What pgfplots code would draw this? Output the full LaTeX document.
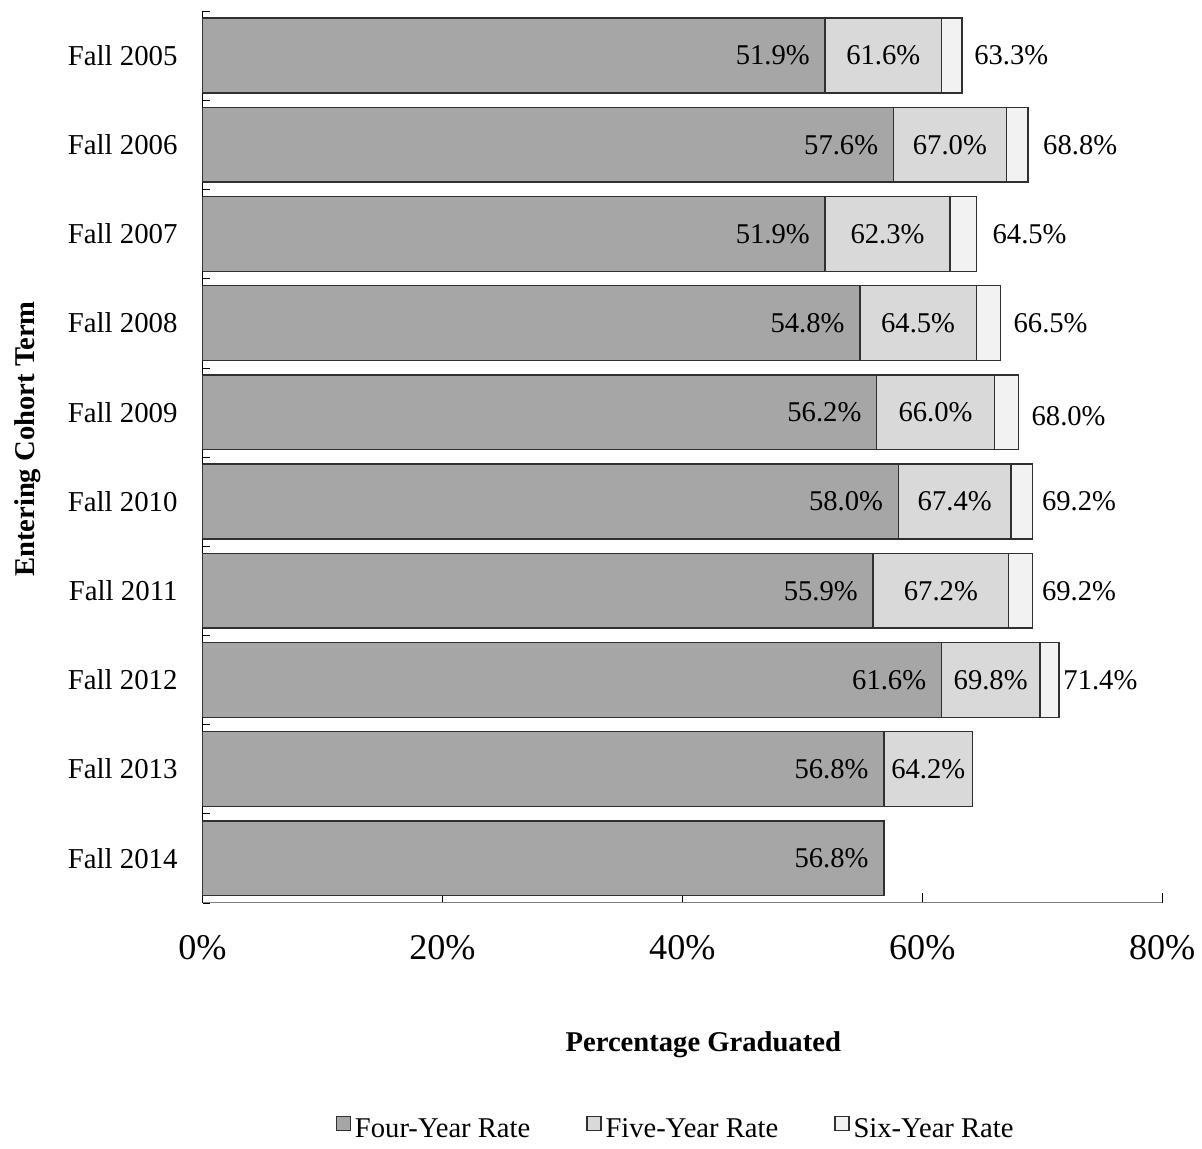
\documentclass[border=0pt]{standalone}
\usepackage{pgfplots}
\pgfplotsset{compat=1.18}
\usepackage{fontspec}
\setmainfont{Liberation Serif}
\definecolor{c4}{HTML}{A6A6A6}
\definecolor{c5}{HTML}{D9D9D9}
\definecolor{c6}{HTML}{F2F2F2}
\definecolor{edge}{HTML}{303030}
\definecolor{axgray}{HTML}{808080}
\tikzset{lbl/.style={font=\fontsize{14.4}{16}\selectfont, inner sep=0pt}}
\pgfplotsset{geom/.style={scale only axis, width=481bp, height=447bp,
  xmin=0, xmax=80, ymin=-0.5, ymax=9.5, y dir=reverse}}
\begin{document}
\begin{tikzpicture}
\begin{axis}[
  geom,
  xbar stacked,
  bar width=37.5bp,
  axis lines=left, axis line style={-},
  x axis line style={draw=axgray},
  y axis line style={draw=black},
  tick align=inside,
  xtick={0,20,40,60,80},
  xticklabel={\pgfmathprintnumber{\tick}\%},
  /pgf/number format/assume math mode=true,
  xticklabel style={font=\fontsize{18.2}{20}\selectfont, yshift=-13bp},
  ytick={0,...,9},
  yticklabels={Fall 2005,Fall 2006,Fall 2007,Fall 2008,Fall 2009,Fall 2010,Fall 2011,Fall 2012,Fall 2013,Fall 2014},
  yticklabel style={font=\fontsize{14.5}{16}\selectfont, xshift=-9bp},
  minor ytick={-0.5,0.5,...,9.5},
  major y tick style={draw=none},
  x tick style={draw=black},
  minor y tick style={draw=black},
  major tick length=5bp, minor tick length=4bp,
  every axis x label/.style={at={(axis description cs:0.5218,0)}, anchor=center, yshift=-71bp, font=\bfseries\fontsize{14.4}{16}\selectfont},
  every axis y label/.style={at={(axis description cs:-0.1819,0.52)}, rotate=90, anchor=center, font=\bfseries\fontsize{14.4}{16}\selectfont},
  xlabel={Percentage Graduated},
  ylabel={Entering Cohort Term},
  legend style={at={(axis description cs:0.494,0)}, anchor=center, yshift=-113.5bp, draw=none, fill=none,
    font=\fontsize{14.4}{16}\selectfont, legend columns=3,
    /tikz/every even column/.append style={column sep=26bp}},
  legend image code/.code={\draw[#1, draw=edge] (0bp,-0.5bp) rectangle (7bp,6.5bp);},
]
\addplot[fill=c4, draw=edge, line width=0.7bp] coordinates {
 (51.9,0) (57.6,1) (51.9,2) (54.8,3) (56.2,4) (58.0,5) (55.9,6) (61.6,7) (56.8,8) (56.8,9)};
\addlegendentry{Four-Year Rate}
\addplot[fill=c5, draw=edge, line width=0.7bp] coordinates {
 (9.7,0) (9.4,1) (10.4,2) (9.7,3) (9.8,4) (9.4,5) (11.3,6) (8.2,7) (7.4,8) (0,9)};
\addlegendentry{Five-Year Rate}
\addplot[fill=c6, draw=edge, line width=0.7bp] coordinates {
 (1.7,0) (1.8,1) (2.2,2) (2.0,3) (2.0,4) (1.8,5) (2.0,6) (1.6,7) (0,8) (0,9)};
\addlegendentry{Six-Year Rate}
\end{axis}
\begin{axis}[geom, hide axis]
% four-year labels
\node[lbl, anchor=east, xshift=-7.5bp] at (axis cs:51.9,0) {51.9\%};
\node[lbl, anchor=east, xshift=-7.5bp] at (axis cs:57.6,1) {57.6\%};
\node[lbl, anchor=east, xshift=-7.5bp] at (axis cs:51.9,2) {51.9\%};
\node[lbl, anchor=east, xshift=-7.5bp] at (axis cs:54.8,3) {54.8\%};
\node[lbl, anchor=east, xshift=-7.5bp] at (axis cs:56.2,4) {56.2\%};
\node[lbl, anchor=east, xshift=-7.5bp] at (axis cs:58.0,5) {58.0\%};
\node[lbl, anchor=east, xshift=-7.5bp] at (axis cs:55.9,6) {55.9\%};
\node[lbl, anchor=east, xshift=-7.5bp] at (axis cs:61.6,7) {61.6\%};
\node[lbl, anchor=east, xshift=-7.5bp] at (axis cs:56.8,8) {56.8\%};
\node[lbl, anchor=east, xshift=-7.5bp] at (axis cs:56.8,9) {56.8\%};
% five-year labels
\node[lbl] at (axis cs:56.75,0) {61.6\%};
\node[lbl] at (axis cs:62.3,1) {67.0\%};
\node[lbl] at (axis cs:57.1,2) {62.3\%};
\node[lbl] at (axis cs:59.65,3) {64.5\%};
\node[lbl] at (axis cs:61.1,4) {66.0\%};
\node[lbl] at (axis cs:62.7,5) {67.4\%};
\node[lbl] at (axis cs:61.55,6) {67.2\%};
\node[lbl] at (axis cs:65.7,7) {69.8\%};
\node[lbl] at (axis cs:60.5,8) {64.2\%};
% six-year labels
\node[lbl, anchor=west, xshift=6bp] at (axis cs:63.3,0) {63.3\%};
\node[lbl, anchor=west, xshift=7.5bp] at (axis cs:68.8,1) {68.8\%};
\node[lbl, anchor=west, xshift=8bp] at (axis cs:64.5,2) {64.5\%};
\node[lbl, anchor=west, xshift=6.5bp] at (axis cs:66.5,3) {66.5\%};
\node[lbl, anchor=west, xshift=6.5bp, yshift=-2bp] at (axis cs:68.0,4) {68.0\%};
\node[lbl, anchor=west, xshift=4.5bp] at (axis cs:69.2,5) {69.2\%};
\node[lbl, anchor=west, xshift=4.5bp] at (axis cs:69.2,6) {69.2\%};
\node[lbl, anchor=west, xshift=2bp] at (axis cs:71.4,7) {71.4\%};
\end{axis}
\path ([xshift=-101.5bp, yshift=-118.5bp]current axis.south west) rectangle ++(601bp,571bp);
\end{tikzpicture}
\end{document}
